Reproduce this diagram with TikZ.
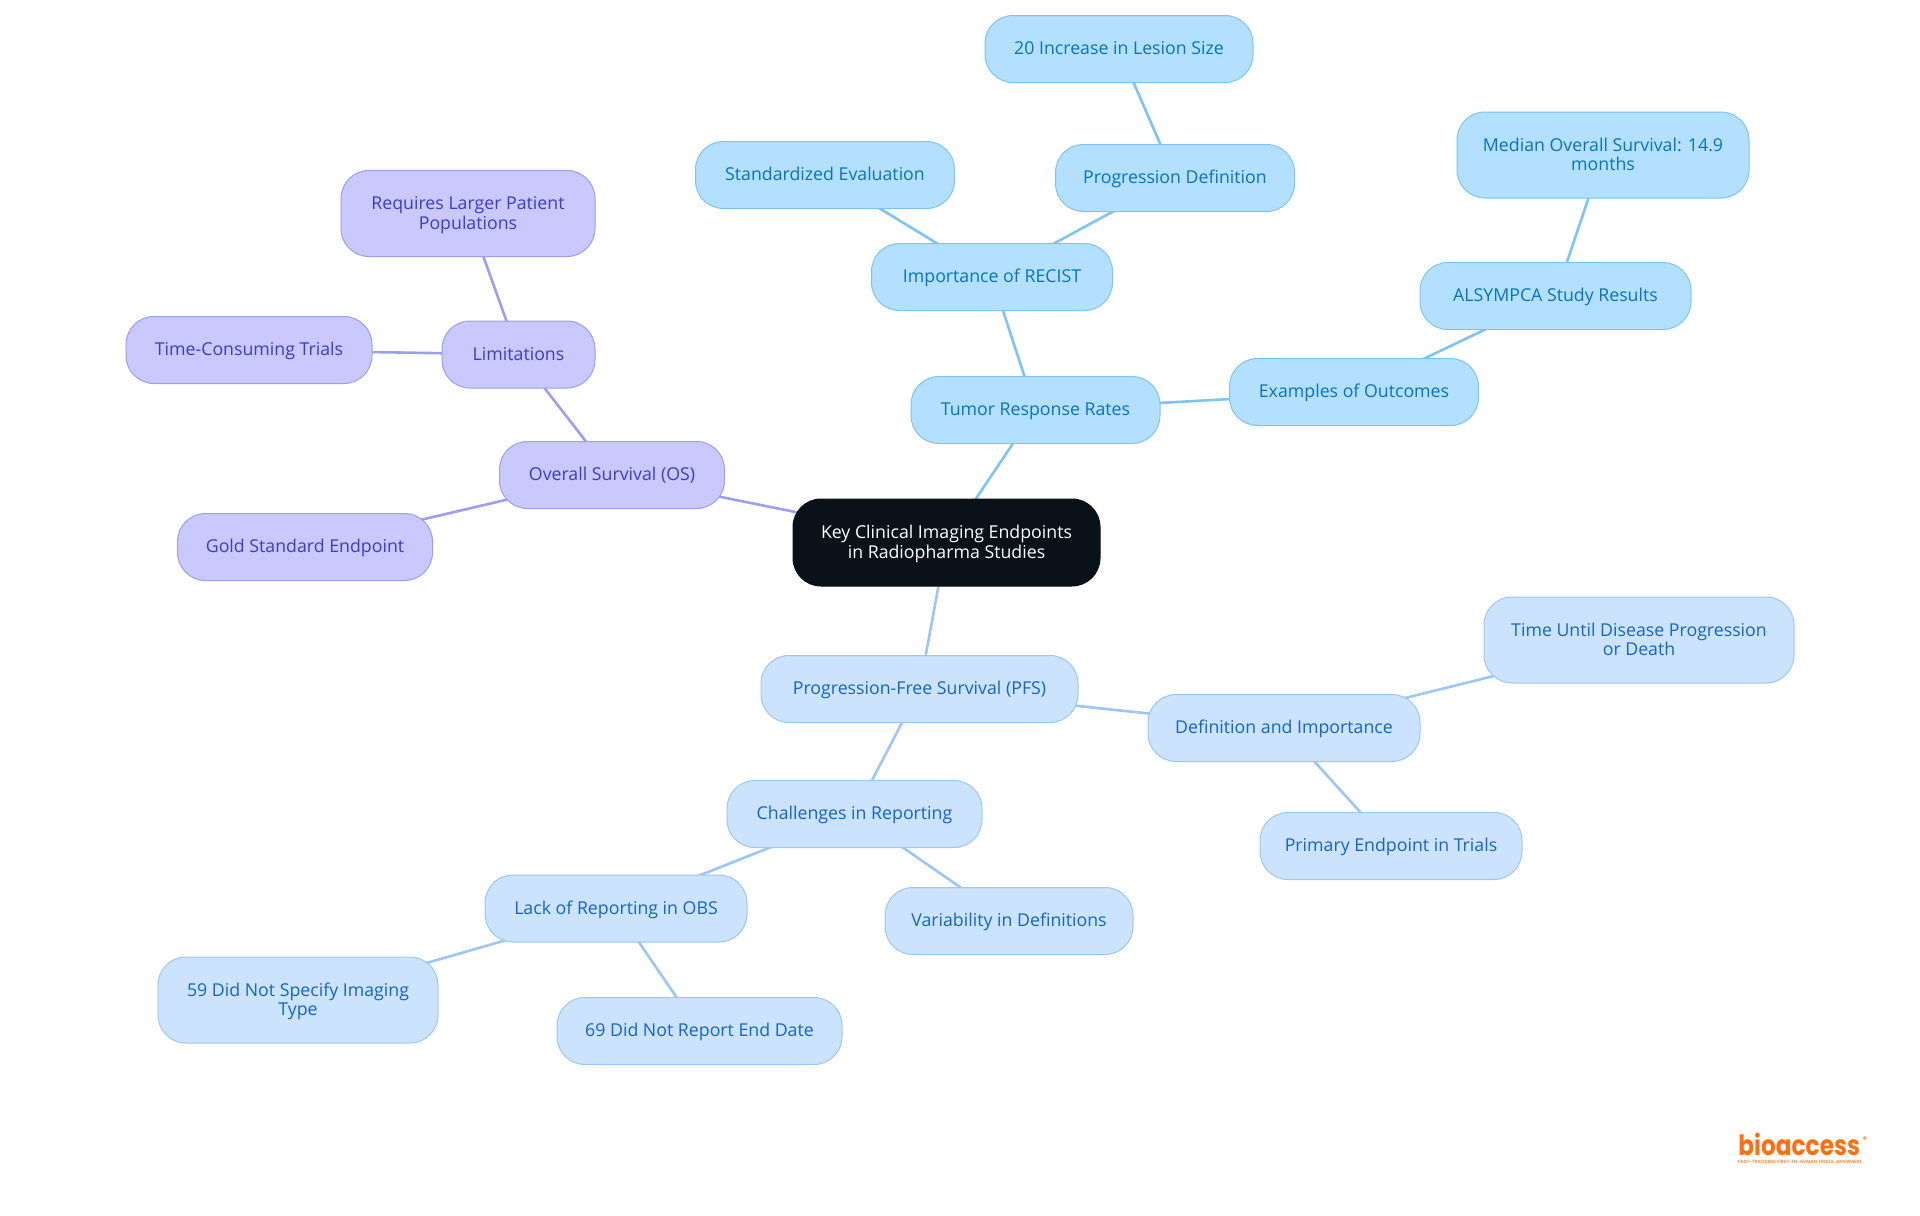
\documentclass[tikz,border=0pt]{standalone}
\usepackage{fontspec}
\setmainfont{Open Sans}
\newfontfamily\logofont[FakeStretch=0.83]{Poppins}
\newfontfamily\tagfont{Poppins}
\usepackage{tikz}
\pgfdeclarelayer{bg}
\pgfsetlayers{bg,main}
\definecolor{rootfill}{HTML}{0B1119}
\definecolor{skyfill}{HTML}{B3E0FF}
\definecolor{skyline}{HTML}{7CC4F5}
\definecolor{skytext}{HTML}{0B72BD}
\definecolor{palefill}{HTML}{CCE3FD}
\definecolor{paleline}{HTML}{9CC6F5}
\definecolor{paletext}{HTML}{1565C8}
\definecolor{violetfill}{HTML}{C9C9FF}
\definecolor{violetline}{HTML}{9D9DF2}
\definecolor{violettext}{HTML}{3C3CCB}
\definecolor{logoorange}{HTML}{FF6F0F}
\tikzset{
  mapnode/.style={rounded corners=14pt, inner sep=0pt, minimum height=33.5pt, align=center, line width=0.5pt, text height=7.1pt, text depth=1.3pt, font=\fontsize{8.87}{9.8}\selectfont},
  root/.style={mapnode, fill=rootfill, draw=rootfill, text=white, minimum height=43.5pt, text height=16.9pt},
  sky/.style={mapnode, fill=skyfill, draw=skyline, text=skytext},
  pale/.style={mapnode, fill=palefill, draw=paleline, text=paletext},
  violet/.style={mapnode, fill=violetfill, draw=violetline, text=violettext},
  twoline/.style={minimum height=43pt, text height=16.9pt},
  skylink/.style={draw=skyline, line width=1.3pt},
  palelink/.style={draw=paleline, line width=1.3pt},
  violetlink/.style={draw=violetline, line width=1.3pt}
}
\begin{document}
\begin{tikzpicture}[x=0.5pt,y=-0.5pt]
    \useasboundingbox (0,0) rectangle (1920,1215);

    \node [root, minimum width=153.5pt] (center) at (946.5,542.5) {Key Clinical Imaging Endpoints\\in Radiopharma Studies};

    \node [sky, minimum width=124.5pt] (tumor) at (1035.5,410) {Tumor Response Rates};
    \node [sky, minimum width=120.5pt] (recist) at (992,277) {Importance of RECIST};
    \node [sky, minimum width=129.5pt] (standard) at (825,175) {Standardized Evaluation};
    \node [sky, minimum width=119.5pt] (progdef) at (1175,178) {Progression Definition};
    \node [sky, minimum width=134pt] (lesion) at (1119,49) {20 Increase in Lesion Size};
    \node [sky, minimum width=124.5pt] (outcomes) at (1354,392) {Examples of Outcomes};
    \node [sky, minimum width=135.5pt] (alsympca) at (1555.5,296) {ALSYMPCA Study Results};
    \node [sky, twoline, minimum width=146pt] (median) at (1603,155) {Median Overall Survival: 14.9\\months};

    \node [violet, minimum width=112.5pt] (os) at (612,475) {Overall Survival (OS)};
    \node [violet, minimum width=76.5pt] (limits) at (518.5,354.5) {Limitations};
    \node [violet, twoline, minimum width=127pt] (larger) at (468,213.5) {Requires Larger Patient\\Populations};
    \node [violet, minimum width=123pt] (trials) at (249,350) {Time-Consuming Trials};
    \node [violet, minimum width=127.5pt] (gold) at (305,547) {Gold Standard Endpoint};

    \node [pale, minimum width=158.5pt] (pfs) at (919.5,689) {Progression-Free Survival (PFS)};
    \node [pale, minimum width=136pt] (definition) at (1284,728) {Definition and Importance};
    \node [pale, twoline, minimum width=155pt] (until) at (1639,640) {Time Until Disease Progression\\or Death};
    \node [pale, minimum width=131pt] (primary) at (1391,846) {Primary Endpoint in Trials};
    \node [pale, minimum width=127.5pt] (challenges) at (854.5,814) {Challenges in Reporting};
    \node [pale, minimum width=131pt] (lack) at (616,908.5) {Lack of Reporting in OBS};
    \node [pale, minimum width=124pt] (variability) at (1009,921) {Variability in Definitions};
    \node [pale, twoline, minimum width=140pt] (imaging) at (298,1000) {59 Did Not Specify Imaging\\Type};
    \node [pale, minimum width=142.5pt] (enddate) at (699.5,1031) {69 Did Not Report End Date};

    % logo
    \node [inner sep=0pt, anchor=base west, text=logoorange, font=\logofont\bfseries\fontsize{14}{14}\selectfont] (logo) at (1738,1155) {bioaccess};
    \node [inner sep=0pt, text=logoorange, font=\tagfont\bfseries\fontsize{4}{4}\selectfont] (logomark) at (1865,1140) {®};
    \node [inner sep=0pt, anchor=base, text=logoorange!75, font=\tagfont\bfseries\fontsize{2.3}{3}\selectfont] (tagline) at (1800,1163.5) {FAST-TRACKING FIRST-IN-HUMAN TRIALS, ANYWHERE};

    \begin{pgfonlayer}{bg}    % links run centre to centre, behind the boxes
        \draw [skylink] (center.center)--(tumor.center);
        \draw [skylink] (tumor.center)--(recist.center);
        \draw [skylink] (recist.center)--(standard.center);
        \draw [skylink] (recist.center)--(progdef.center);
        \draw [skylink] (progdef.center)--(lesion.center);
        \draw [skylink] (tumor.center)--(outcomes.center);
        \draw [skylink] (outcomes.center)--(alsympca.center);
        \draw [skylink] (alsympca.center)--(median.center);

        \draw [violetlink] (center.center)--(os.center);
        \draw [violetlink] (os.center)--(limits.center);
        \draw [violetlink] (limits.center)--(larger.center);
        \draw [violetlink] (limits.center)--(trials.center);
        \draw [violetlink] (os.center)--(gold.center);

        \draw [palelink] (center.center)--(pfs.center);
        \draw [palelink] (pfs.center)--(definition.center);
        \draw [palelink] (definition.center)--(until.center);
        \draw [palelink] (definition.center)--(primary.center);
        \draw [palelink] (pfs.center)--(challenges.center);
        \draw [palelink] (challenges.center)--(lack.center);
        \draw [palelink] (challenges.center)--(variability.center);
        \draw [palelink] (lack.center)--(imaging.center);
        \draw [palelink] (lack.center)--(enddate.center);
    \end{pgfonlayer}
\end{tikzpicture}
\end{document}
